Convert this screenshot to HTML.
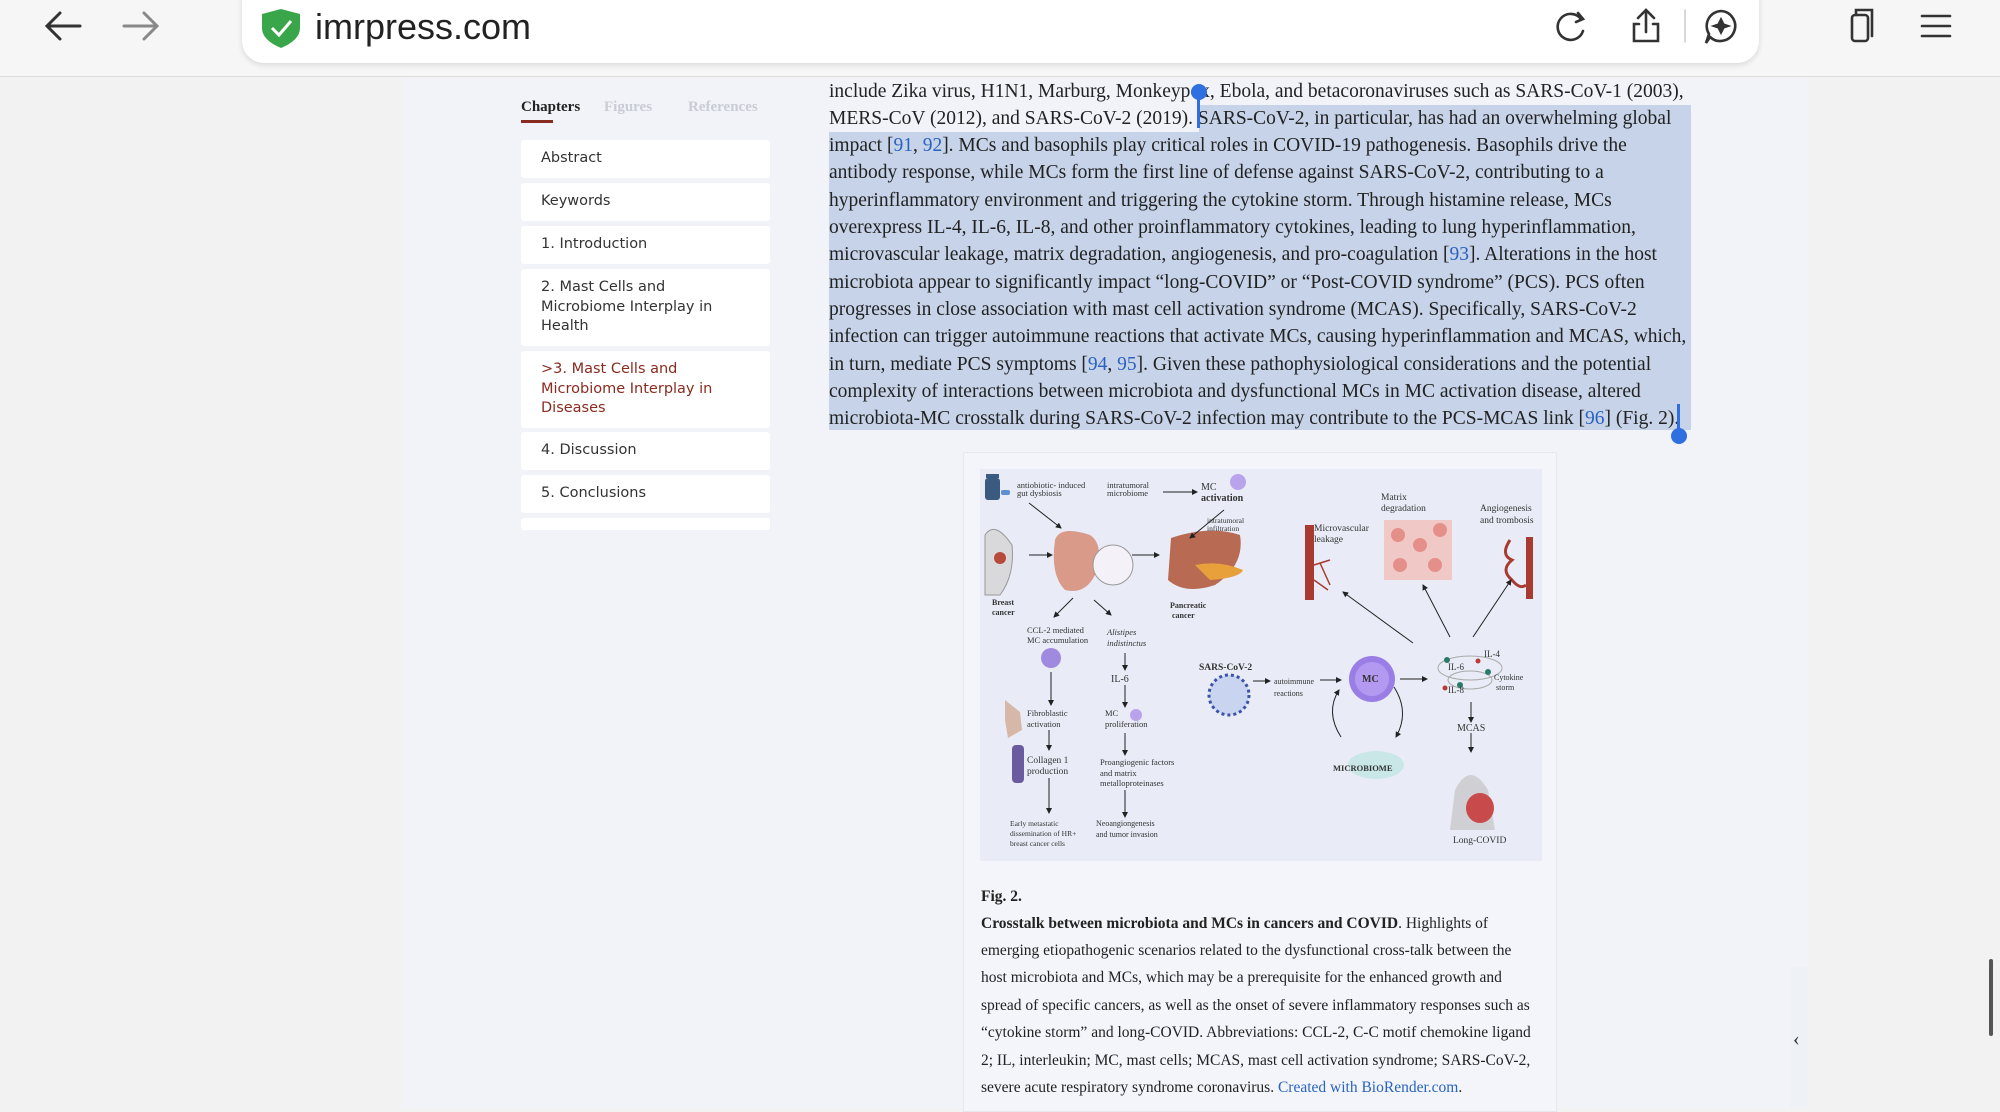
<!DOCTYPE html>
<html><head><meta charset="utf-8"><style>
*{margin:0;padding:0;box-sizing:border-box}
body{width:2000px;height:1108px;overflow:hidden;background:#f2f2f2;position:relative;font-family:"Liberation Serif",serif}
.abs{position:absolute}
#top{left:0;top:0;width:2000px;height:77px;background:#f6f6f6;border-bottom:1px solid #dcdcdc}
#url{left:242px;top:-20px;width:1517px;height:83px;background:#fff;border-radius:22px;box-shadow:0 2px 6px rgba(0,0,0,.12)}
#content{left:403px;top:78px;width:1404px;height:1030px;background:#f1f3f8}
.tab{top:99px;font-size:15px;font-weight:bold}
.item{left:521px;width:249px;background:#fff;border-radius:3px;font-family:"DejaVu Sans","Liberation Sans",sans-serif;font-size:14.5px;color:#333;padding:9px 0 0 20px;line-height:19.5px}
.ln{left:829px;font-size:19.5px;line-height:27px;white-space:nowrap;color:#222}
.sel{background:#c6d3e8}
.ref{color:#2a62c0}
.cap{left:981px;font-size:15.5px;white-space:nowrap;color:#222}
</style></head><body>
<div id="top" class="abs"></div>
<svg class="abs" style="left:0;top:0" width="2000" height="77">
<g stroke="#333" stroke-width="3" fill="none" stroke-linecap="round">
<path d="M48 26 L80 26 M60 13 L47 26 L60 39"/>
</g>
<g stroke="#888" stroke-width="3" fill="none" stroke-linecap="round">
<path d="M124 26 L156 26 M144 13 L157 26 L144 39"/>
</g>
</svg>
<div id="url" class="abs"></div>
<svg class="abs" style="left:0;top:0" width="2000" height="77">
<path d="M281 9 L300 14 L300 28 Q300 40 281 48 Q262 40 262 28 L262 14 Z" fill="#3aa64a"/>
<path d="M272 28 L279 35 L291 21" stroke="#fff" stroke-width="3" fill="none"/>
<g stroke="#333" stroke-width="2.6" fill="none" stroke-linecap="round">
<path d="M1581 19 A13 13 0 1 0 1583 31"/><path d="M1578 13 L1583 19 L1576 22"/>
<path d="M1646 10 L1646 32 M1638 18 L1646 10 L1654 18 M1639 24 L1634 24 L1634 41 L1658 41 L1658 24 L1653 24"/>
<line x1="1685" y1="10" x2="1685" y2="42" stroke="#ccc" stroke-width="1.5"/>
<path d="M1721 11 A15 15 0 1 1 1710 37 L1706 43 L1709 34 A15 15 0 0 1 1721 11 Z"/>
<path d="M1721 18 L1724 24 L1730 26 L1724 28 L1721 34 L1718 28 L1712 26 L1718 24 Z" fill="#333" stroke-width="1"/>
<rect x="1852" y="15" width="16" height="26" rx="3"/><path d="M1856 15 L1856 10 L1872 10 L1872 36"/>
<path d="M1922 16 L1950 16 M1922 26 L1950 26 M1922 36 L1950 36"/>
</g>
</svg>
<div class="abs" style="left:315px;top:6px;font-family:'Liberation Sans',sans-serif;font-size:36px;color:#222">imrpress.com</div>

<div id="content" class="abs"></div>
<div class="abs tab" style="left:521px;color:#222">Chapters</div>
<div class="abs" style="left:521px;top:120px;width:32px;height:3px;background:#8a2b20"></div>
<div class="abs tab" style="left:604px;color:#c9ccd4">Figures</div>
<div class="abs tab" style="left:688px;color:#c9ccd4">References</div>
<div class="abs item" style="top:140px;height:38px">Abstract</div>
<div class="abs item" style="top:183px;height:38px">Keywords</div>
<div class="abs item" style="top:226px;height:38px">1. Introduction</div>
<div class="abs item" style="top:269px;height:77px">2. Mast Cells and<br>Microbiome Interplay in<br>Health</div>
<div class="abs item" style="top:351px;height:77px;color:#8a2b20">&gt;3. Mast Cells and<br>Microbiome Interplay in<br>Diseases</div>
<div class="abs item" style="top:432px;height:38px">4. Discussion</div>
<div class="abs item" style="top:475px;height:38px">5. Conclusions</div>
<div class="abs item" style="top:518px;height:12px;padding:0"></div>

<div class="abs sel" style="left:1199px;top:105px;width:492px;height:27px"></div>
<div class="abs sel" style="left:829px;top:132px;width:862px;height:298px"></div>
<div class="abs ln" style="top:78px">include Zika virus, H1N1, Marburg, Monkeypox, Ebola, and betacoronaviruses such as SARS-CoV-1 (2003),</div>
<div class="abs ln" style="top:105px">MERS-CoV (2012), and SARS-CoV-2 (2019). SARS-CoV-2, in particular, has had an overwhelming global</div>
<div class="abs ln" style="top:132px">impact [<span class="ref">91</span>, <span class="ref">92</span>]. MCs and basophils play critical roles in COVID-19 pathogenesis. Basophils drive the</div>
<div class="abs ln" style="top:159px">antibody response, while MCs form the first line of defense against SARS-CoV-2, contributing to a</div>
<div class="abs ln" style="top:187px">hyperinflammatory environment and triggering the cytokine storm. Through histamine release, MCs</div>
<div class="abs ln" style="top:214px">overexpress IL-4, IL-6, IL-8, and other proinflammatory cytokines, leading to lung hyperinflammation,</div>
<div class="abs ln" style="top:241px">microvascular leakage, matrix degradation, angiogenesis, and pro-coagulation [<span class="ref">93</span>]. Alterations in the host</div>
<div class="abs ln" style="top:269px">microbiota appear to significantly impact “long-COVID” or “Post-COVID syndrome” (PCS). PCS often</div>
<div class="abs ln" style="top:296px">progresses in close association with mast cell activation syndrome (MCAS). Specifically, SARS-CoV-2</div>
<div class="abs ln" style="top:323px">infection can trigger autoimmune reactions that activate MCs, causing hyperinflammation and MCAS, which,</div>
<div class="abs ln" style="top:351px">in turn, mediate PCS symptoms [<span class="ref">94</span>, <span class="ref">95</span>]. Given these pathophysiological considerations and the potential</div>
<div class="abs ln" style="top:378px">complexity of interactions between microbiota and dysfunctional MCs in MC activation disease, altered</div>
<div class="abs ln" style="top:405px">microbiota-MC crosstalk during SARS-CoV-2 infection may contribute to the PCS-MCAS link [<span class="ref">96</span>] (Fig. 2).</div>
<div class="abs" style="left:1197px;top:88px;width:3px;height:40px;background:#2f6fe0"></div>
<div class="abs" style="left:1191px;top:84px;width:16px;height:16px;border-radius:50%;background:#2f6fe0"></div>
<div class="abs" style="left:1677px;top:404px;width:3px;height:30px;background:#2f6fe0"></div>
<div class="abs" style="left:1671px;top:428px;width:16px;height:16px;border-radius:50%;background:#2f6fe0"></div>

<div class="abs" style="left:963px;top:452px;width:594px;height:660px;background:#f3f5fa;border:1px solid #e6e8ee"></div>
<svg class="abs" style="left:980px;top:469px" width="562" height="392" font-family="Liberation Serif,serif" font-size="8.5" fill="#333">
<defs><marker id="a" markerWidth="6" markerHeight="6" refX="5" refY="3" orient="auto"><path d="M0 0 L6 3 L0 6 Z" fill="#222"/></marker></defs>
<rect width="562" height="392" fill="#e9ecf6"/>
<g transform="translate(-980,-469)">
<rect x="985" y="478" width="15" height="22" rx="3" fill="#3a5a80"/><rect x="986" y="474" width="13" height="4" fill="#3a5a80"/>
<rect x="1001" y="490" width="9" height="5" rx="2" fill="#5b8fd0"/>
<path d="M985 535 Q995 520 1012 545 Q1015 575 1000 595 L985 595 Z" fill="#d9d9dc" stroke="#999"/>
<circle cx="1000" cy="558" r="6" fill="#b84a3a"/>
<path d="M1055 540 Q1060 525 1090 535 Q1105 545 1095 575 Q1085 595 1065 590 Q1050 575 1055 540Z" fill="#d99a8a"/>
<circle cx="1113" cy="565" r="20" fill="#f4f2f8" stroke="#999"/>
<path d="M1171 538 Q1210 525 1240 535 Q1245 565 1215 585 Q1185 595 1168 580 Z" fill="#b96a52"/>
<path d="M1195 565 Q1220 560 1243 570 Q1240 578 1210 580Z" fill="#e8a13a"/>
<circle cx="1238" cy="482" r="8" fill="#b9a3ec"/>
<circle cx="1051" cy="658" r="10" fill="#a08ae0"/>
<circle cx="1136" cy="715" r="6" fill="#b9a3ec"/>
<path d="M1005 700 L1020 712 L1022 730 L1008 738 L1005 720Z" fill="#d7b8a8"/>
<rect x="1012" y="745" width="12" height="38" rx="4" fill="#6a5aa0"/>
<circle cx="1229" cy="695" r="20" fill="#c9d4f0" stroke="#3a52a8" stroke-width="3" stroke-dasharray="3 3"/>
<circle cx="1372" cy="679" r="23" fill="#9b7de6"/><circle cx="1372" cy="679" r="17" fill="#b39af0"/>
<ellipse cx="1376" cy="765" rx="28" ry="14" fill="#bfe6e2" opacity=".8"/>
<rect x="1305" y="525" width="9" height="75" fill="#a83a30"/>
<path d="M1314 565 L1330 560 M1320 563 L1330 585 M1314 580 L1328 590" stroke="#a83a30" stroke-width="1.5"/>
<rect x="1384" y="520" width="68" height="60" fill="#f0c9c6"/>
<g fill="#e58f8a"><circle cx="1398" cy="535" r="7"/><circle cx="1420" cy="545" r="7"/><circle cx="1440" cy="530" r="7"/><circle cx="1400" cy="565" r="7"/><circle cx="1435" cy="565" r="7"/></g>
<rect x="1526" y="537" width="7" height="62" fill="#a83a30"/>
<path d="M1510 540 Q1500 555 1512 560 Q1500 570 1512 580 Q1520 590 1526 585" stroke="#a83a30" stroke-width="3" fill="none"/>
<ellipse cx="1470" cy="668" rx="32" ry="12" fill="none" stroke="#aaa"/><ellipse cx="1470" cy="680" rx="22" ry="9" fill="none" stroke="#aaa"/>
<g fill="#2a7a6a"><circle cx="1447" cy="660" r="3"/><circle cx="1488" cy="672" r="3"/><circle cx="1460" cy="685" r="3"/></g>
<g fill="#b83a3a"><circle cx="1478" cy="661" r="2.5"/><circle cx="1445" cy="688" r="2.5"/></g>
<path d="M1455 790 Q1470 760 1488 790 L1495 830 L1450 830 Z" fill="#d0d0d4"/>
<ellipse cx="1480" cy="808" rx="14" ry="15" fill="#c94a4a"/>
<g stroke="#222" stroke-width="1" fill="none" marker-end="url(#a)">
<path d="M1029 503 L1061 528"/><path d="M1163 492 L1197 492"/><path d="M1224 510 L1190 538"/>
<path d="M1029 555 L1052 555"/><path d="M1132 555 L1159 555"/>
<path d="M1073 598 L1054 617"/><path d="M1094 600 L1111 615"/>
<path d="M1051 672 L1051 705"/><path d="M1049 730 L1049 750"/><path d="M1049 778 L1049 813"/>
<path d="M1125 653 L1125 670"/><path d="M1125 685 L1125 707"/><path d="M1125 733 L1125 755"/><path d="M1125 790 L1125 817"/>
<path d="M1253 681 L1270 681"/><path d="M1320 680 L1341 680"/><path d="M1400 679 L1427 679"/>
<path d="M1413 643 L1343 592"/><path d="M1450 637 L1423 585"/><path d="M1473 637 L1511 580"/>
<path d="M1471 702 L1471 722"/><path d="M1471 733 L1471 752"/>
<path d="M1394 687 Q1410 712 1396 737"/><path d="M1341 737 Q1325 712 1339 690"/>
</g>
<text x="1017" y="488">antiobiotic- induced</text><text x="1017" y="496">gut dysbiosis</text>
<text x="1107" y="488">intratumoral</text><text x="1107" y="496">microbiome</text>
<text x="1201" y="490" font-size="10">MC</text><text x="1201" y="501" font-size="10" font-weight="bold">activation</text>
<text x="1207" y="523" font-size="7.5">intratumoral</text><text x="1207" y="531" font-size="7.5">infiltration</text>
<text x="992" y="605" font-weight="bold" font-size="8">Breast</text><text x="992" y="615" font-weight="bold" font-size="8">cancer</text>
<text x="1170" y="608" font-weight="bold" font-size="8">Pancreatic</text><text x="1172" y="618" font-weight="bold" font-size="8">cancer</text>
<text x="1314" y="531" font-size="9.5">Microvascular</text><text x="1314" y="542" font-size="9.5">leakage</text>
<text x="1381" y="500" font-size="9.5">Matrix</text><text x="1381" y="511" font-size="9.5">degradation</text>
<text x="1480" y="511" font-size="9.5">Angiogenesis</text><text x="1480" y="523" font-size="9.5">and trombosis</text>
<text x="1027" y="633">CCL-2 mediated</text><text x="1027" y="643">MC accumulation</text>
<text x="1107" y="635" font-style="italic">Alistipes</text><text x="1107" y="646" font-style="italic">indistinctus</text>
<text x="1111" y="682" font-size="10">IL-6</text>
<text x="1199" y="670" font-size="9.5" font-weight="bold">SARS-CoV-2</text>
<text x="1274" y="684" font-size="8">autoimmune</text><text x="1274" y="696" font-size="8">reactions</text>
<text x="1362" y="682" font-size="10" font-weight="bold">MC</text>
<text x="1484" y="657" font-size="9">IL-4</text><text x="1448" y="670" font-size="9">IL-6</text><text x="1448" y="693" font-size="9">IL-8</text>
<text x="1494" y="680" font-size="8">Cytokine</text><text x="1496" y="690" font-size="8">storm</text>
<text x="1027" y="716" font-size="8.5">Fibroblastic</text><text x="1027" y="727" font-size="8.5">activation</text>
<text x="1105" y="716" font-size="8.5">MC</text><text x="1105" y="727" font-size="8.5">proliferation</text>
<text x="1027" y="763" font-size="9.5">Collagen 1</text><text x="1027" y="774" font-size="9.5">production</text>
<text x="1100" y="765">Proangiogenic factors</text><text x="1100" y="776">and matrix</text><text x="1100" y="786">metalloproteinases</text>
<text x="1457" y="731" font-size="10">MCAS</text>
<text x="1333" y="771" font-size="8.5" font-weight="bold">MICROBIOME</text>
<text x="1010" y="826" font-size="7.5">Early metastatic</text><text x="1010" y="836" font-size="7.5">dissemination of HR+</text><text x="1010" y="846" font-size="7.5">breast cancer cells</text>
<text x="1096" y="826" font-size="8">Neoangiongenesis</text><text x="1096" y="837" font-size="8">and tumor invasion</text>
<text x="1453" y="843" font-size="9.5">Long-COVID</text>
</g>
</svg>

<div class="abs cap" style="top:888px;font-weight:bold">Fig. 2.</div>
<div class="abs cap" style="top:915px"><b>Crosstalk between microbiota and MCs in cancers and COVID</b>. Highlights of</div>
<div class="abs cap" style="top:942px">emerging etiopathogenic scenarios related to the dysfunctional cross-talk between the</div>
<div class="abs cap" style="top:969px">host microbiota and MCs, which may be a prerequisite for the enhanced growth and</div>
<div class="abs cap" style="top:997px">spread of specific cancers, as well as the onset of severe inflammatory responses such as</div>
<div class="abs cap" style="top:1024px">“cytokine storm” and long-COVID. Abbreviations: CCL-2, C-C motif chemokine ligand</div>
<div class="abs cap" style="top:1052px">2; IL, interleukin; MC, mast cells; MCAS, mast cell activation syndrome; SARS-CoV-2,</div>
<div class="abs cap" style="top:1079px">severe acute respiratory syndrome coronavirus. <span class="ref">Created with BioRender.com</span>.</div>

<div class="abs" style="left:1790px;top:967px;width:17px;height:141px;background:#eef1f6"></div>
<div class="abs" style="left:1793px;top:1028px;font-size:20px;color:#333">‹</div>
<div class="abs" style="left:1989px;top:959px;width:4px;height:77px;border-radius:2px;background:#555"></div>
</body></html>
